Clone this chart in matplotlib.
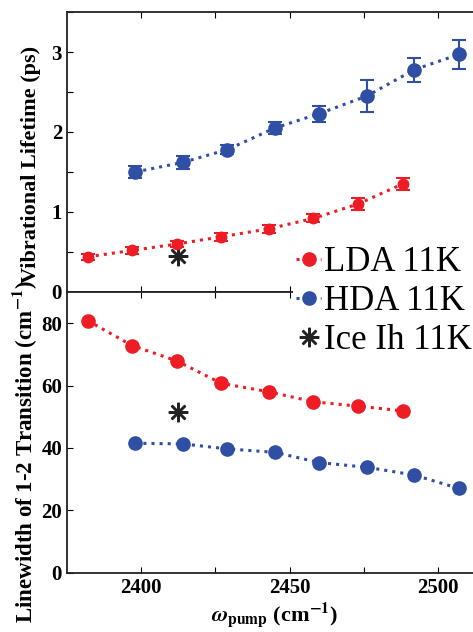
import numpy as np
import matplotlib
matplotlib.use('Agg')
import matplotlib.pyplot as plt

plt.rcParams.update({'font.family': 'Liberation Serif', 'mathtext.fontset': 'stix',
                     'font.size': 15, 'font.weight': 'bold', 'axes.labelweight': 'bold',
                     'axes.linewidth': 1.3, 'axes.edgecolor': '#222222',
                     'xtick.direction': 'in', 'ytick.direction': 'in',
                     'xtick.top': True, 'ytick.right': True,
                     'xtick.major.size': 4, 'ytick.major.size': 4})

#%% data
x_lda = [2382, 2397, 2412, 2427, 2443, 2458, 2473, 2488]
x_hda = [2398, 2414, 2429, 2445, 2460, 2476, 2492, 2507]
x_ice = [2412.5]

# vibrational lifetime (ps)
life_lda = [0.44, 0.52, 0.60, 0.69, 0.79, 0.92, 1.10, 1.35]
life_lda_err = [0.04, 0.04, 0.04, 0.05, 0.05, 0.05, 0.08, 0.08]
life_hda = [1.50, 1.62, 1.78, 2.05, 2.23, 2.45, 2.78, 2.97]
life_hda_err = [0.07, 0.08, 0.06, 0.08, 0.10, 0.20, 0.15, 0.18]
life_ice = [0.45]

# linewidth of 1-2 transition (cm-1)
lw_lda = [80.8, 72.8, 67.9, 60.7, 58.0, 54.8, 53.4, 51.9]
lw_hda = [41.5, 41.3, 39.7, 38.6, 35.3, 33.8, 31.3, 27.0]
lw_ice = [51.6]

red = '#ee1c24'
blue = '#2e4fa3'
star = (8, 2, 0)

fig = plt.figure(figsize=(4.73, 6.32), dpi=100)
ax1 = fig.add_axes([0.1416, 0.538, 0.879, 0.443])
ax2 = fig.add_axes([0.1416, 0.0938, 0.879, 0.4442])

#%% upper panel
ax1.errorbar(x_hda, life_hda, yerr=life_hda_err, fmt='o', ls=':', lw=2.2, color=blue,
             ms=9.5, capsize=5, elinewidth=1.5, capthick=1.5)
ax1.errorbar(x_lda, life_lda, yerr=life_lda_err, fmt='o', ls=':', lw=2.2, color=red,
             ms=7.5, capsize=5, elinewidth=1.5, capthick=1.5)
ax1.plot(x_ice, life_ice, marker=star, color='#222222', ms=14, mew=1.8, ls='none')
ax1.set_xlim(2375, 2515)
ax1.set_ylim(0, 3.5)
ax1.set_xticks(np.arange(2400, 2525, 25))
ax1.set_xticklabels([])
yt = np.arange(0, 3.51, 0.5)
ax1.set_yticks(yt)
ax1.set_yticklabels([f'{v:g}' if v == int(v) and v < 3.5 else '' for v in yt])
ax1.set_ylabel('Vibrational Lifetime (ps)', fontsize=16)
ax1.yaxis.set_label_coords(-0.062, 0.455)

#%% lower panel
l1, = ax2.plot(x_lda, lw_lda, 'o:', color=red, lw=2.2, ms=9.5)
l2, = ax2.plot(x_hda, lw_hda, 'o:', color=blue, lw=2.2, ms=9.5)
l3, = ax2.plot(x_ice, lw_ice, marker=star, color='#222222', ms=14, mew=1.8, ls='none')
ax2.set_xlim(2375, 2515)
ax2.set_ylim(0, 90)
ax2.set_xticks(np.arange(2400, 2525, 25))
ax2.set_xticklabels(['2400', '', '2450', '', '2500'])
ax2.set_yticks([0, 20, 40, 60, 80])
ax2.set_ylabel(r'Linewidth of 1-2 Transition (cm$^{\mathbf{-1}}$)', fontsize=16.5)
ax2.yaxis.set_label_coords(-0.068, 0.43)
ax2.set_xlabel(r'$\omega_{\mathbf{pump}}$ (cm$^{\mathbf{-1}}$)', fontsize=16, labelpad=2)

leg = fig.legend([l1, l2, l3], ['LDA 11K', 'HDA 11K', 'Ice Ih 11K'],
                 loc='upper left', bbox_to_anchor=(293/473, 1 - 243/632),
                 prop={'family': 'Liberation Serif', 'weight': 'normal', 'size': 25},
                 handlelength=0.7, handletextpad=0.1, labelspacing=0.17,
                 borderpad=0.1, borderaxespad=0, frameon=True, fancybox=False,
                 facecolor='white', edgecolor='none', framealpha=1)
leg.set_zorder(10)

fig.savefig('out.png', dpi=100)
